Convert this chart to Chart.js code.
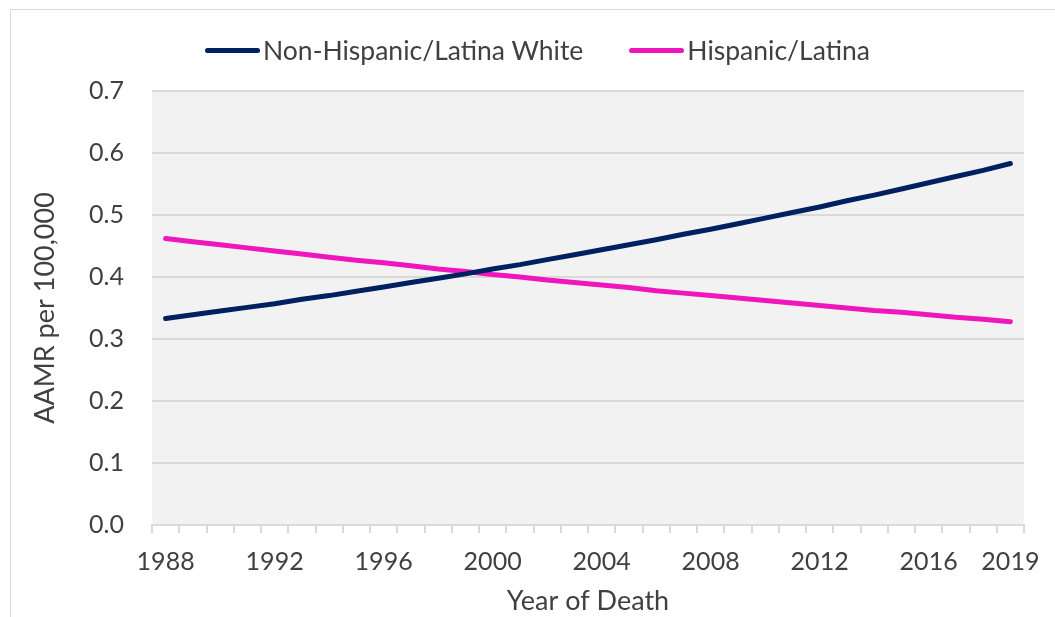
<!DOCTYPE html>
<html>
<head>
<meta charset="utf-8">
<script src="https://cdn.jsdelivr.net/npm/chart.js@4"></script>
<style>
  html, body { margin: 0; padding: 0; background: #fff; }
  #wrap { position: relative; width: 1055px; height: 617px; }
  #legend {
    position: absolute; left: 205px; top: 34px;
    display: flex; align-items: center;
    font-family: Lato, sans-serif; font-size: 26.5px; color: #404040;
  }
  .item { display: flex; align-items: center; margin-right: 46px; }
  .swatch { width: 55px; height: 5px; border-radius: 3px; margin-right: 3px; }
</style>
</head>
<body>
<div id="wrap">
  <canvas id="chart" width="1055" height="617"></canvas>
  <div id="legend"></div>
</div>
<script>
const years = [];
for (let y = 1988; y <= 2019; y++) years.push(String(y));

const whiteLabel = 'Non-Hispanic/Latina White';
const whiteRates = [
  0.333, 0.339, 0.345, 0.351, 0.357, 0.364, 0.370, 0.377, 0.384, 0.391,
  0.398, 0.405, 0.413, 0.420, 0.428, 0.436, 0.444, 0.452, 0.460, 0.469,
  0.477, 0.486, 0.495, 0.504, 0.513, 0.523, 0.532, 0.542, 0.552, 0.562,
  0.572, 0.583,
];

const hispanicLabel = 'Hispanic/Latina';
const hispanicRates = [
  0.462, 0.457, 0.452, 0.447, 0.442, 0.437, 0.432, 0.427, 0.423, 0.418,
  0.413, 0.409, 0.404, 0.400, 0.395, 0.391, 0.387, 0.383, 0.378, 0.374,
  0.370, 0.366, 0.362, 0.358, 0.354, 0.350, 0.346, 0.343, 0.339, 0.335,
  0.332, 0.328,
];

const shownYears = ['1988', '1992', '1996', '2000', '2004', '2008', '2012', '2016', '2019'];

const textColor = '#404040';
const gridColor = '#d9d9d9';
const tickFont = { family: 'Lato, sans-serif', size: 25 };
const titleFont = { family: 'Lato, sans-serif', size: 27 };

// gray plot area + outer frame
const backdrop = {
  id: 'backdrop',
  beforeDraw(chart) {
    const { ctx, chartArea } = chart;
    ctx.save();
    ctx.fillStyle = '#f2f2f2';
    ctx.fillRect(chartArea.left, chartArea.top, chartArea.right - chartArea.left, chartArea.bottom - chartArea.top);
    ctx.strokeStyle = gridColor;
    ctx.lineWidth = 1;
    ctx.strokeRect(10.5, 9.5, 1200, 800);
    ctx.restore();
  },
};

const chart = new Chart(document.getElementById('chart'), {
  type: 'line',
  data: {
    labels: years,
    datasets: [
      {
        label: whiteLabel,
        data: whiteRates,
        borderColor: '#002060',
        backgroundColor: '#002060',
        borderWidth: 5,
        borderCapStyle: 'round',
        pointRadius: 0,
        tension: 0,
      },
      {
        label: hispanicLabel,
        data: hispanicRates,
        borderColor: '#f016be',
        backgroundColor: '#f016be',
        borderWidth: 5,
        borderCapStyle: 'round',
        pointRadius: 0,
        tension: 0,
      },
    ],
  },
  options: {
    responsive: false,
    animation: false,
    layout: { padding: { top: 91, right: 31, bottom: 0, left: 0 } },
    plugins: {
      legend: { display: false },
      tooltip: { enabled: false },
    },
    scales: {
      x: {
        offset: true,
        grid: { drawOnChartArea: false, color: gridColor, lineWidth: 2, tickLength: 8, offset: true },
        border: { color: gridColor, width: 2 },
        ticks: {
          autoSkip: false,
          maxRotation: 0,
          color: textColor,
          font: tickFont,
          padding: 14,
          callback: function (value) {
            const lbl = this.getLabelForValue(value);
            return shownYears.includes(lbl) ? lbl : '';
          },
        },
        title: { display: true, text: 'Year of Death', color: textColor, font: titleFont, padding: { top: 2, bottom: 0 } },
        afterFit: (scale) => { scale.height = 92; },
      },
      y: {
        min: 0,
        max: 0.7,
        grid: { color: gridColor, lineWidth: 2, drawTicks: false },
        border: { display: false },
        ticks: {
          stepSize: 0.1,
          color: textColor,
          font: tickFont,
          padding: 28,
          callback: (value) => value.toFixed(1),
        },
        title: { display: true, text: 'AAMR per 100,000', color: textColor, font: titleFont, padding: { top: 29, bottom: 0 } },
        afterFit: (scale) => { scale.width = 152; },
      },
    },
  },
  plugins: [backdrop],
});

// legend built from the chart's datasets
const legend = document.getElementById('legend');
chart.data.datasets.forEach((ds) => {
  const item = document.createElement('div');
  item.className = 'item';
  const sw = document.createElement('span');
  sw.className = 'swatch';
  sw.style.background = ds.borderColor;
  const txt = document.createElement('span');
  txt.textContent = ds.label;
  item.appendChild(sw);
  item.appendChild(txt);
  legend.appendChild(item);
});
</script>
</body>
</html>
